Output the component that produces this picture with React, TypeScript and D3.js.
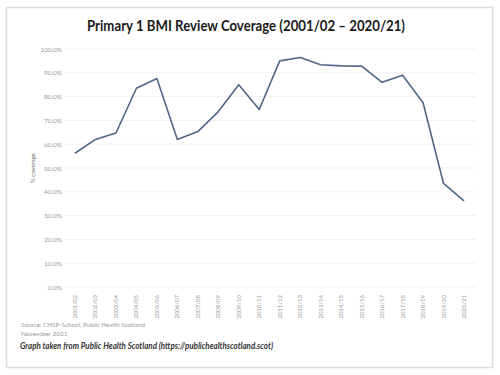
import React from "react";
import * as d3 from "d3";

const years = ["2001/02","2002/03","2003/04","2004/05","2005/06","2006/07","2007/08","2008/09","2009/10","2010/11","2011/12","2012/13","2013/14","2014/15","2015/16","2016/17","2017/18","2018/19","2019/20","2020/21"];
const coverage = [56.2, 62.0, 64.7, 83.5, 87.6, 62.0, 65.3, 73.7, 85.0, 74.6, 95.0, 96.4, 93.4, 92.9, 92.8, 86.0, 89.0, 77.4, 43.5, 36.2];
const yTicks = [0, 10, 20, 30, 40, 50, 60, 70, 80, 90, 100];

const W = 500, H = 375;
const font = "Lato, 'Open Sans', sans-serif";

export default function App() {
  const x = d3.scalePoint<string>().domain(years).range([75, 464]);
  const y = d3.scaleLinear().domain([0, 100]).range([287, 49]);
  const line = d3.line<number>().x((_, i) => x(years[i])!).y(d => y(d));
  return (
    <svg width={W} height={H} style={{ position: "absolute", left: 0, top: 0, background: "#fff" }}>
      <rect x={0} y={0} width={W} height={H} fill="#fff" />
      <rect x={6.5} y={7.5} width={486} height={360} fill="#fff" stroke="#dcdcdc" strokeWidth={1.5} />
      <text x={87} y={31} fontFamily={font} fontWeight="bold" fontSize={15} fill="#1a1a1a" textLength={318} lengthAdjust="spacingAndGlyphs">
        Primary 1 BMI Review Coverage (2001/02 – 2020/21)
      </text>
      {yTicks.map(t => (
        <g key={t}>
          <line x1={64} x2={476} y1={y(t)} y2={y(t)} stroke="#f1f1f1" strokeWidth={1} />
          <text x={62} y={y(t) + 2.5} textAnchor="end" fontFamily={font} fontSize={6.5} fill="#9a9a9a">
            {t.toFixed(1)}%
          </text>
        </g>
      ))}
      <text transform={`translate(35,${y(50)}) rotate(-90)`} textAnchor="middle" fontFamily={font} fontSize={6} fill="#666">
        % coverage
      </text>
      {years.map(yr => (
        <text key={yr} transform={`translate(${x(yr)! + 2},295) rotate(-90)`} textAnchor="end" fontFamily={font} fontSize={6} fill="#9a9a9a">
          {yr}
        </text>
      ))}
      <path d={line(coverage)!} fill="none" stroke="#4f6785" strokeWidth={1.6} strokeLinejoin="round" />
      <text x={21} y={327} fontFamily={font} fontSize={6.5} fill="#9a9a9a" textLength={124} lengthAdjust="spacingAndGlyphs">Source: CHSP-School, Public Health Scotland</text>
      <text x={21} y={336} fontFamily={font} fontSize={6.5} fill="#9a9a9a">November 2021</text>
      <text x={20} y={349} fontFamily={font} fontWeight="bold" fontStyle="italic" fontSize={9} fill="#333" textLength={253} lengthAdjust="spacingAndGlyphs">
        Graph taken from Public Health Scotland (https://publichealthscotland.scot)
      </text>
    </svg>
  );
}
